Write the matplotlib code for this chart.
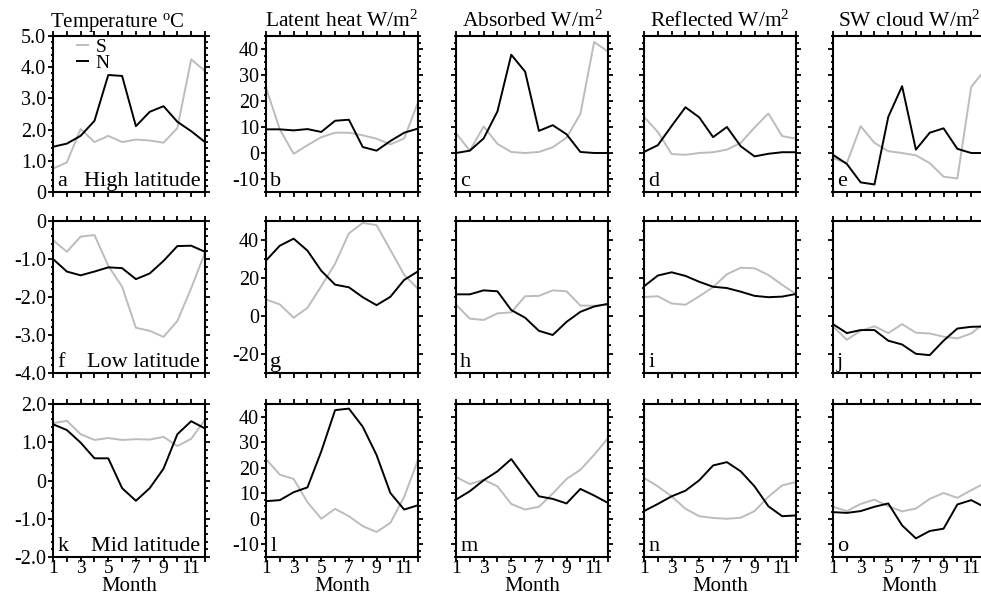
import matplotlib
matplotlib.use('Agg')
import matplotlib.pyplot as plt
from matplotlib.ticker import MultipleLocator, FixedLocator, FuncFormatter

plt.rcParams['font.family'] = ['Liberation Serif', 'DejaVu Serif']
plt.rcParams['mathtext.fontset'] = 'custom'
plt.rcParams['mathtext.rm'] = 'Liberation Serif'
plt.rcParams['mathtext.it'] = 'Liberation Serif:italic'
plt.rcParams['axes.unicode_minus'] = False

months = list(range(1, 13))
month_labels = ['1', '', '3', '', '5', '', '7', '', '9', '', '11', '']
titles = ['Temperature $^{\\rm o}$C', 'Latent heat W/m$^2$', 'Absorbed W/m$^2$',
          'Reflected W/m$^2$', 'SW cloud W/m$^2$']
letters = [['a', 'b', 'c', 'd', 'e'], ['f', 'g', 'h', 'i', 'j'], ['k', 'l', 'm', 'n', 'o']]
region_labels = ['High latitude', 'Low latitude', 'Mid latitude']
series_names = ['S', 'N']

# ---- High latitude ----
high_temp_S = [0.75, 0.95, 2.02, 1.6, 1.8, 1.6, 1.68, 1.65, 1.58, 2.05, 4.25, 3.88]
high_temp_N = [1.45, 1.55, 1.8, 2.28, 3.75, 3.72, 2.11, 2.57, 2.75, 2.25, 1.95, 1.6]
high_lh_S = [25.1, 9.1, -0.3, 3.0, 6.1, 7.8, 7.8, 6.8, 5.5, 3.3, 5.6, 19.5]
high_lh_N = [9.1, 9.1, 8.7, 9.2, 8.1, 12.4, 12.8, 2.3, 0.9, 4.6, 7.8, 9.4]
high_abs_S = [7.6, 0.9, 10.2, 3.5, 0.4, 0.0, 0.4, 2.2, 5.9, 15.0, 42.7, 39.0]
high_abs_N = [0.0, 0.9, 5.6, 16.0, 37.8, 31.3, 8.5, 10.7, 7.2, 0.4, 0.0, 0.0]
high_ref_S = [13.9, 8.1, -0.4, -0.7, 0.0, 0.3, 1.3, 3.9, 9.8, 15.2, 6.5, 5.5]
high_ref_N = [0.4, 3.0, 10.4, 17.6, 13.7, 6.1, 10.0, 2.6, -1.3, -0.3, 0.3, 0.3]
high_sw_S = [-2.0, -3.9, 10.3, 3.9, 0.7, 0.0, -0.9, -3.9, -9.1, -9.8, 25.4, 32.0]
high_sw_N = [-0.7, -4.2, -11.3, -12.1, 13.9, 25.7, 1.3, 7.8, 9.5, 1.6, 0.0, 0.0]

# ---- Low latitude ----
low_temp_S = [-0.5, -0.81, -0.41, -0.37, -1.18, -1.73, -2.81, -2.89, -3.05, -2.63, -1.77, -0.83]
low_temp_N = [-1.0, -1.33, -1.43, -1.33, -1.22, -1.24, -1.53, -1.38, -1.05, -0.66, -0.65, -0.81]
low_lh_S = [8.7, 6.1, -0.9, 4.3, 15.7, 27.5, 43.5, 49.0, 47.8, 34.8, 21.7, 14.3]
low_lh_N = [29.2, 37.0, 40.7, 34.4, 23.8, 16.5, 15.1, 9.9, 5.7, 10.1, 19.0, 23.5]
low_abs_S = [6.0, -1.4, -2.1, 1.4, 1.9, 10.4, 10.6, 13.5, 13.0, 5.5, 5.4, 6.0]
low_abs_N = [11.4, 11.4, 13.5, 13.0, 3.1, -0.9, -7.8, -10.0, -3.1, 2.2, 5.0, 6.4]
low_ref_S = [10.0, 10.4, 6.6, 5.9, 10.4, 15.2, 22.0, 25.4, 25.1, 21.6, 16.4, 11.6]
low_ref_N = [15.6, 21.3, 23.0, 21.1, 18.0, 15.4, 14.7, 12.8, 10.6, 9.9, 10.2, 11.6]
low_sw_S = [-5.5, -12.5, -7.8, -5.4, -9.0, -4.3, -8.8, -9.2, -10.9, -11.8, -9.2, -3.5]
low_sw_N = [-4.3, -9.0, -7.4, -7.4, -13.0, -15.0, -19.9, -20.6, -13.0, -6.6, -5.7, -5.5]

# ---- Mid latitude ----
mid_temp_S = [1.5, 1.56, 1.21, 1.06, 1.11, 1.06, 1.08, 1.07, 1.14, 0.9, 1.09, 1.59]
mid_temp_N = [1.47, 1.32, 0.99, 0.58, 0.58, -0.2, -0.53, -0.2, 0.31, 1.21, 1.55, 1.36]
mid_lh_S = [23.4, 17.3, 15.6, 6.5, 0.0, 3.9, 1.0, -2.9, -5.2, -1.6, 8.6, 23.1]
mid_lh_N = [6.9, 7.3, 10.4, 12.3, 26.4, 42.6, 43.2, 36.1, 25.0, 10.1, 3.6, 5.3]
mid_abs_S = [16.4, 13.6, 15.3, 12.7, 5.8, 3.6, 4.7, 9.9, 15.6, 19.2, 25.1, 31.6]
mid_abs_N = [7.5, 10.8, 15.1, 18.6, 23.4, 16.0, 8.8, 7.8, 6.0, 11.7, 9.1, 6.2]
mid_ref_S = [16.0, 12.7, 8.8, 3.9, 1.0, 0.3, 0.0, 0.4, 3.0, 8.6, 13.1, 14.4]
mid_ref_N = [3.0, 5.8, 8.8, 11.0, 15.1, 20.9, 22.2, 18.6, 12.7, 4.9, 1.0, 1.3]
mid_sw_S = [4.7, 3.0, 5.8, 7.5, 4.9, 2.9, 4.0, 7.8, 10.1, 8.2, 11.2, 14.0]
mid_sw_N = [2.6, 2.3, 3.0, 4.7, 6.0, -2.6, -7.7, -4.8, -3.9, 5.6, 7.3, 4.5]

data = [
    [(high_temp_S, high_temp_N), (high_lh_S, high_lh_N), (high_abs_S, high_abs_N),
     (high_ref_S, high_ref_N), (high_sw_S, high_sw_N)],
    [(low_temp_S, low_temp_N), (low_lh_S, low_lh_N), (low_abs_S, low_abs_N),
     (low_ref_S, low_ref_N), (low_sw_S, low_sw_N)],
    [(mid_temp_S, mid_temp_N), (mid_lh_S, mid_lh_N), (mid_abs_S, mid_abs_N),
     (mid_ref_S, mid_ref_N), (mid_sw_S, mid_sw_N)],
]

# y-axis settings per row
temp_ylims = [(0, 5), (-4, 0), (-2, 2)]
flux_ylims = [(-15, 45), (-30, 50), (-15, 45)]
flux_major = [10, 20, 10]
flux_minor = [2.5, 5, 2.5]

W, H = 981, 600
fig = plt.figure(figsize=(W / 100, H / 100), dpi=100)

col_left = [53, 266, 456, 644, 833]
ax_w = 152
row_top = [36, 221, 404]
row_bot = [192, 373, 557]

gray = '#bcbcbc'
black = '#000000'
lw = 1.4
fs_ytick = 14.5
fs_xtick = 14
fs_title = 15.5
fs_title0 = 15
fs_text = 16
fs_xlabel = 15

temp_fmt = FuncFormatter(lambda v, p: '0' if abs(v) < 1e-9 else '%.1f' % v)
int_fmt = FuncFormatter(lambda v, p: '%d' % round(v))

for r in range(3):
    for c in range(5):
        l = col_left[c] / W
        b = 1 - row_bot[r] / H
        h = (row_bot[r] - row_top[r]) / H
        ax = fig.add_axes([l, b, ax_w / W, h])
        s_vals, n_vals = data[r][c]
        ax.plot(months, s_vals, color=gray, lw=lw, label=series_names[0], zorder=2)
        ax.plot(months, n_vals, color=black, lw=lw, label=series_names[1], zorder=3)
        ax.set_xlim(1, 12)
        ax.xaxis.set_major_locator(FixedLocator(months))
        if r == 2:
            ax.set_xticklabels(month_labels)
            ax.set_xlabel('Month', fontsize=fs_xlabel, labelpad=0)
        else:
            ax.set_xticklabels([])
        if c == 0:
            ax.set_ylim(*temp_ylims[r])
            ax.yaxis.set_major_locator(MultipleLocator(1.0))
            ax.yaxis.set_minor_locator(MultipleLocator(0.2))
            ax.yaxis.set_major_formatter(temp_fmt)
        else:
            ax.set_ylim(*flux_ylims[r])
            ax.yaxis.set_major_locator(MultipleLocator(flux_major[r]))
            ax.yaxis.set_minor_locator(MultipleLocator(flux_minor[r]))
            if c == 1:
                ax.yaxis.set_major_formatter(int_fmt)
            else:
                ax.set_yticklabels([])
        ax.tick_params(which='both', direction='out', top=True, right=True, width=1.3)
        ax.tick_params(axis='y', pad=1.5, labelsize=fs_ytick)
        ax.tick_params(axis='x', pad=-1.5, labelsize=fs_xtick)
        ax.tick_params(which='major', length=3.5)
        ax.tick_params(which='minor', length=1.8)
        ax.tick_params(axis='x', which='minor', top=False, bottom=False)
        for sp in ax.spines.values():
            sp.set_linewidth(1.5)
        ax.annotate(letters[r][c], xy=(0, 0), xycoords='axes fraction',
                    xytext=(3.0, 4), textcoords='offset points',
                    ha='left', va='baseline', fontsize=fs_text)
        if c == 0:
            ax.annotate(region_labels[r], xy=(1, 0), xycoords='axes fraction',
                        xytext=(-3.5, 4), textcoords='offset points',
                        ha='right', va='baseline', fontsize=fs_text)
        if r == 0:
            if c == 0:
                ax.set_title(titles[c], fontsize=fs_title0, loc='left', pad=6.5, x=-0.02)
            else:
                ax.set_title(titles[c], fontsize=fs_title, pad=6.5)
        if r == 0 and c == 0:
            ax.legend(loc='upper left', bbox_to_anchor=(0.07, 1.07), frameon=False,
                      fontsize=14, handlelength=0.55, handletextpad=0.4,
                      labelspacing=-0.1, borderpad=0.2)

fig.savefig('out.png', dpi=100)
